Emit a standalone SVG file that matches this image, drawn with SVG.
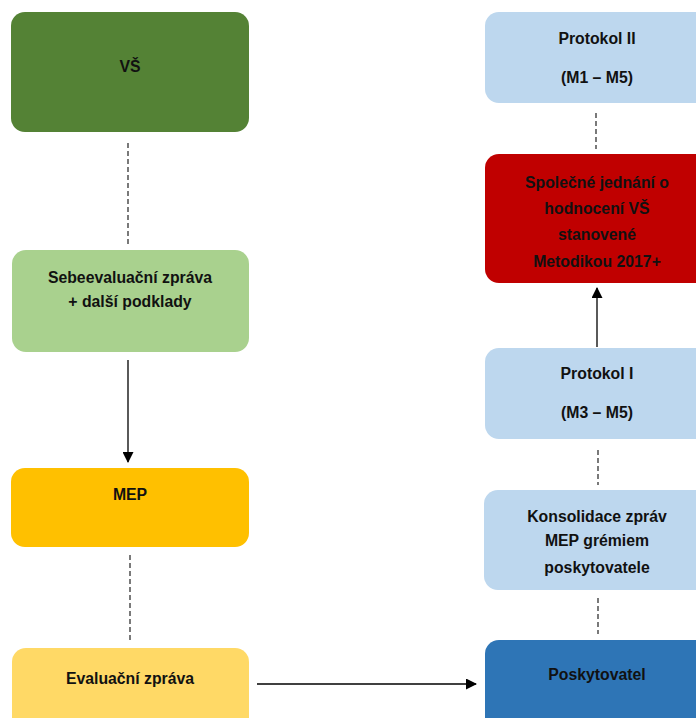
<svg xmlns="http://www.w3.org/2000/svg" width="696" height="718" viewBox="0 0 696 718">
<defs>
<marker id="ah" markerWidth="11" markerHeight="11" refX="10" refY="5.5" orient="auto" markerUnits="userSpaceOnUse">
<path d="M0,0 L11,5.5 L0,11 Z" fill="#000"/>
</marker>
<style>
text{font-family:"Liberation Sans",Arial,sans-serif;font-weight:bold;font-size:15.8px;fill:#111;text-anchor:middle}
.dash{stroke:#222;stroke-width:1.2;stroke-dasharray:5,3;fill:none}
.solid{stroke:#000;stroke-width:1.3;fill:none}
</style>
</defs>
<rect width="696" height="718" fill="#fff"/>
<g id="vs"><rect x="11" y="12" width="238" height="120" rx="14" fill="#548235"/><text x="130" y="72">VŠ</text></g>
<g id="sebe"><rect x="12" y="250" width="237" height="102" rx="14" fill="#A9D18E"/><text x="130" y="283">Sebeevaluační zpráva</text><text x="130" y="307">+ další podklady</text></g>
<g id="mep"><rect x="11" y="468" width="238" height="79" rx="14" fill="#FFC000"/><text x="130" y="500">MEP</text></g>
<g id="eval"><rect x="12" y="648" width="237" height="90" rx="14" fill="#FFD966"/><text x="130" y="684">Evaluační zpráva</text></g>
<g id="prot2"><rect x="485" y="12" width="230" height="91" rx="14" fill="#BDD7EE"/><text x="597" y="44">Protokol II</text><text x="597" y="83">(M1 – M5)</text></g>
<g id="spol"><rect x="485" y="154" width="230" height="129" rx="14" fill="#C00000"/><text x="597" y="188">Společné jednání o</text><text x="597" y="214">hodnocení VŠ</text><text x="597" y="240">stanovené</text><text x="597" y="267">Metodikou 2017+</text></g>
<g id="prot1"><rect x="485" y="348" width="230" height="91" rx="14" fill="#BDD7EE"/><text x="597" y="379">Protokol I</text><text x="597" y="418">(M3 – M5)</text></g>
<g id="kons"><rect x="484" y="490" width="231" height="100" rx="14" fill="#BDD7EE"/><text x="597" y="522">Konsolidace zpráv</text><text x="597" y="546">MEP grémiem</text><text x="597" y="573">poskytovatele</text></g>
<g id="posk"><rect x="485" y="640" width="230" height="98" rx="14" fill="#2E75B6"/><text x="597" y="680">Poskytovatel</text></g>
<g id="connectors">
<line class="dash" x1="128" y1="143" x2="128" y2="246"/>
<line class="solid" x1="128" y1="360" x2="128" y2="462" marker-end="url(#ah)"/>
<line class="dash" x1="130" y1="555" x2="130" y2="643"/>
<line class="solid" x1="257" y1="684" x2="476" y2="684" marker-end="url(#ah)"/>
<line class="dash" x1="596" y1="113" x2="596" y2="149"/>
<line class="solid" x1="597" y1="347" x2="597" y2="288" marker-end="url(#ah)"/>
<line class="dash" x1="598" y1="450" x2="598" y2="485"/>
<line class="dash" x1="598" y1="598" x2="598" y2="634"/>
</g>
</svg>
